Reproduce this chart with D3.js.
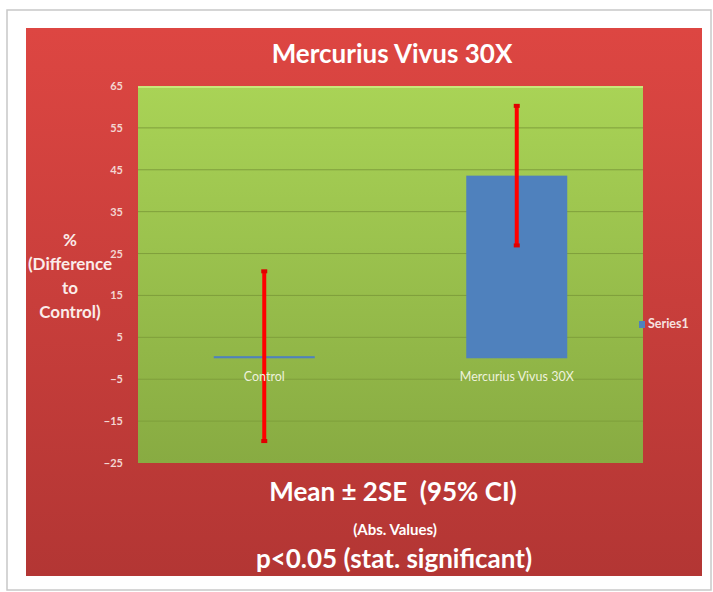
<!DOCTYPE html>
<html>
<head>
<meta charset="utf-8">
<script src="https://cdn.jsdelivr.net/npm/d3@7"></script>
<style>
  body { margin: 0; background: #fff; }
  text { font-family: Lato, "Open Sans", sans-serif; white-space: pre; }
</style>
</head>
<body>
<div id="chart"></div>
<script>
// chart data
const categories = ["Control", "Mercurius Vivus 30X"];
const means = [0.5, 43.6];
const errors = [20.5, 16.9];
const yTicks = [-25, -15, -5, 5, 15, 25, 35, 45, 55, 65];
const seriesName = "Series1";

function drawChart() {
    const W = 713, H = 592;
    // plot area inside the red panel
    const plot = {left: 138, right: 643, top: 86, bottom: 463};
    const width = plot.right - plot.left;
    const height = plot.bottom - plot.top;

    const svg = d3.select("#chart")
        .append("svg")
        .attr("width", W)
        .attr("height", H);

    const defs = svg.append("defs");

    // red panel gradient
    const redGrad = defs.append("linearGradient")
        .attr("id", "redGrad")
        .attr("x1", 0).attr("y1", 0).attr("x2", 0).attr("y2", 1);
    redGrad.append("stop").attr("offset", "0%").attr("stop-color", "#dd4642");
    redGrad.append("stop").attr("offset", "100%").attr("stop-color", "#b33634");

    // green plot gradient
    const greenGrad = defs.append("linearGradient")
        .attr("id", "greenGrad")
        .attr("x1", 0).attr("y1", 0).attr("x2", 0).attr("y2", 1);
    greenGrad.append("stop").attr("offset", "0%").attr("stop-color", "#a9d356");
    greenGrad.append("stop").attr("offset", "100%").attr("stop-color", "#88ab42");

    // outer frame
    svg.append("rect")
        .attr("x", 7).attr("y", 10)
        .attr("width", 704).attr("height", 580)
        .attr("fill", "#fff")
        .attr("stroke", "#c8c8c8")
        .attr("stroke-width", 1.5);

    // red panel
    svg.append("rect")
        .attr("x", 26).attr("y", 28)
        .attr("width", 676).attr("height", 548)
        .attr("fill", "url(#redGrad)");

    // green plot background
    svg.append("rect")
        .attr("x", plot.left).attr("y", plot.top)
        .attr("width", width).attr("height", height)
        .attr("fill", "url(#greenGrad)");

    // top highlight of plot area
    svg.append("line")
        .attr("x1", plot.left).attr("x2", plot.right)
        .attr("y1", plot.top + 1).attr("y2", plot.top + 1)
        .attr("stroke", "#c8e87a")
        .attr("stroke-width", 2);

    const g = svg.append("g")
        .attr("transform", "translate(" + plot.left + "," + plot.top + ")");

    // scales
    const x = d3.scaleBand()
        .domain(categories)
        .range([0, width])
        .paddingInner(0.6)
        .paddingOuter(0.3);

    const y = d3.scaleLinear()
        .domain([-25, 65])
        .range([height, 0]);

    // gridlines
    g.append("g")
        .selectAll("line")
        .data(yTicks.slice(1, -1))
        .join("line")
        .attr("x1", 0).attr("x2", width)
        .attr("y1", d => y(d)).attr("y2", d => y(d))
        .attr("stroke", "#7f9f3c")
        .attr("stroke-width", 1);

    // y axis tick labels
    const yAxis = g.append("g")
        .call(d3.axisLeft(y).tickValues(yTicks).tickSize(0).tickPadding(15));
    yAxis.select(".domain").remove();
    yAxis.selectAll("text")
        .attr("fill", "#f3d6d2")
        .style("font-size", "11px")
        .style("font-weight", "bold");

    // bars
    g.append("g")
        .selectAll("rect")
        .data(categories)
        .join("rect")
        .attr("x", d => x(d))
        .attr("width", x.bandwidth())
        .attr("y", (d, i) => y(Math.max(0, means[i])))
        .attr("height", (d, i) => Math.max(2, Math.abs(y(means[i]) - y(0))))
        .attr("fill", "#4f81bd");

    // error bars
    const eb = g.append("g")
        .selectAll("g")
        .data(categories)
        .join("g");
    eb.append("line")
        .attr("x1", d => x(d) + x.bandwidth() / 2)
        .attr("x2", d => x(d) + x.bandwidth() / 2)
        .attr("y1", (d, i) => y(means[i] + errors[i]))
        .attr("y2", (d, i) => y(means[i] - errors[i]))
        .attr("stroke", "#ff0000")
        .attr("stroke-width", 4);
    eb.append("rect")
        .attr("x", d => x(d) + x.bandwidth() / 2 - 3)
        .attr("y", (d, i) => y(means[i] + errors[i]) - 1)
        .attr("width", 6).attr("height", 4)
        .attr("fill", "#e00000");
    eb.append("rect")
        .attr("x", d => x(d) + x.bandwidth() / 2 - 3)
        .attr("y", (d, i) => y(means[i] - errors[i]) - 3)
        .attr("width", 6).attr("height", 4)
        .attr("fill", "#e00000");

    // category labels
    g.append("g")
        .selectAll("text")
        .data(categories)
        .join("text")
        .attr("x", d => x(d) + x.bandwidth() / 2)
        .attr("y", y(0) + 23)
        .attr("text-anchor", "middle")
        .attr("fill", "#eef2dc")
        .style("font-size", "12.5px")
        .text(d => d);

    // chart title
    svg.append("text")
        .attr("x", 392)
        .attr("y", 63)
        .attr("text-anchor", "middle")
        .attr("fill", "#ffffff")
        .style("font-size", "26px")
        .style("font-weight", "bold")
        .text("Mercurius Vivus 30X");

    // y axis title
    const yTitle = ["%", "(Difference", "to", "Control)"];
    svg.append("g")
        .selectAll("text")
        .data(yTitle)
        .join("text")
        .attr("x", 70)
        .attr("y", (d, i) => 246 + i * 24)
        .attr("text-anchor", "middle")
        .attr("fill", "#fbecea")
        .style("font-size", "17px")
        .style("font-weight", "bold")
        .text(d => d);

    // legend
    svg.append("rect")
        .attr("x", 639).attr("y", 321)
        .attr("width", 6).attr("height", 7)
        .attr("fill", "#4f81bd");
    svg.append("text")
        .attr("x", 648).attr("y", 328)
        .attr("fill", "#f6e2e0")
        .style("font-size", "12.5px")
        .style("font-weight", "bold")
        .text(seriesName);

    // bottom notes
    svg.append("text")
        .attr("x", 393).attr("y", 501)
        .attr("text-anchor", "middle")
        .attr("fill", "#ffffff")
        .style("font-size", "26px")
        .style("font-weight", "bold")
        .text("Mean \u00b1 2SE  (95% CI)");
    svg.append("text")
        .attr("x", 395).attr("y", 535)
        .attr("text-anchor", "middle")
        .attr("fill", "#ffffff")
        .style("font-size", "15px")
        .style("font-weight", "bold")
        .text("(Abs. Values)");
    svg.append("text")
        .attr("x", 394).attr("y", 568)
        .attr("text-anchor", "middle")
        .attr("fill", "#ffffff")
        .style("font-size", "26px")
        .style("font-weight", "bold")
        .text("p<0.05 (stat. significant)");
}

drawChart();
</script>
</body>
</html>
